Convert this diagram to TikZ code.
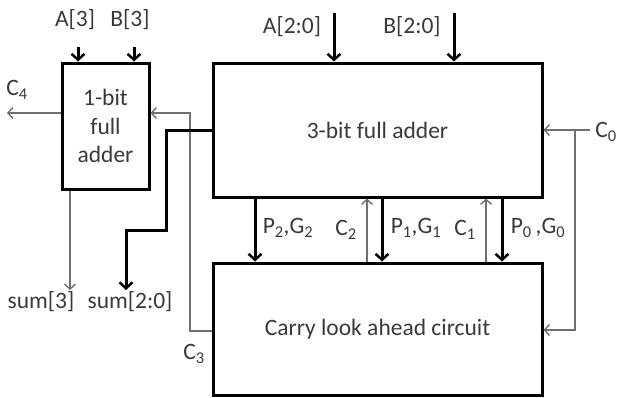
\documentclass[tikz,border=0pt]{standalone}
\usepackage{fontspec}
\setmainfont{Carlito}
\usetikzlibrary{arrows.meta}
\definecolor{txt}{HTML}{3A3A3A}
\definecolor{wire}{HTML}{707070}
\tikzset{
  blk/.style={draw=black, line width=3pt, minimum width=#1, inner sep=0pt, align=center, text=txt, font=\fontsize{23.5}{28.5}\selectfont},
  lbl/.style={text=txt, inner sep=0pt, font=\fontsize{23.5}{26}\selectfont},
  bus/.style={line width=3pt, -{Straight Barb[length=6pt,width=13pt,line width=2.5pt]}},
  sig/.style={draw=wire, line width=1.6pt, -{Straight Barb[length=5pt,width=11pt,line width=1.4pt]}}
}
\begin{document}
\begin{tikzpicture}[x=1pt,y=-1pt]
\useasboundingbox (0,0) rectangle (620,397);
% blocks
\node[blk=87pt, minimum height=126pt] (fa1) at (105.5,126) {1-bit\\full\\adder};
\node[blk=329pt, minimum height=134pt] (fa3) at (377.5,130) {3-bit full adder};
\node[blk=329pt, minimum height=132pt] (cla) at (377.5,329) {Carry look ahead circuit};
% labels
\node[lbl] (la3) at (75,20) {A[3]};
\node[lbl] (lb3) at (130,20) {B[3]};
\node[lbl] (la20) at (292,27) {A[2:0]};
\node[lbl] (lb20) at (412,27) {B[2:0]};
\node[lbl] (lc4) at (17,90) {C\textsubscript{4}};
\node[lbl] (lc0) at (606,132) {C\textsubscript{0}};
\node[lbl] (ls3) at (41,302) {sum[3]};
\node[lbl] (ls20) at (130,302) {sum[2:0]};
\node[lbl] (lc3) at (194,354) {C\textsubscript{3}};
\node[lbl] (lpg2) at (288,228) {P\textsubscript{2},G\textsubscript{2}};
\node[lbl] (lc2) at (346,230) {C\textsubscript{2}};
\node[lbl] (lpg1) at (416,228) {P\textsubscript{1},G\textsubscript{1}};
\node[lbl] (lc1) at (465,230) {C\textsubscript{1}};
\node[lbl] (lpg0) at (538,228) {P\textsubscript{0}\,,G\textsubscript{0}};
% coordinates
\coordinate (a3in) at (78,47);
\coordinate (b3in) at (134,47);
\coordinate (a20in) at (334,13);
\coordinate (b20in) at (454,13);
\coordinate (c4out) at (7,113);
\coordinate (c3a) at (190,331);
\coordinate (c3b) at (190,113);
\coordinate (s3out) at (70,290);
\coordinate (sa) at (166,130);
\coordinate (sb) at (166,230);
\coordinate (sc) at (126,230);
\coordinate (s20out) at (126,290);
\coordinate (c0in) at (590,130);
\coordinate (c0a) at (575,130);
\coordinate (c0b) at (575,330);
\coordinate (x2) at (255,0);
\coordinate (xc2) at (367,0);
\coordinate (x1) at (382,0);
\coordinate (xc1) at (486,0);
\coordinate (x0) at (502,0);
% inputs
\draw[bus] (a3in) -- (a3in |- fa1.north);
\draw[bus] (b3in) -- (b3in |- fa1.north);
\draw[bus] (a20in) -- (a20in |- fa3.north);
\draw[bus] (b20in) -- (b20in |- fa3.north);
% carries
\draw[sig] (c4out -| fa1.west) -- (c4out);
\draw[sig] (c3a -| cla.west) -- (c3a) -- (c3b) -- (c3b -| fa1.east);
\draw[sig] (c0in) -- (c0in -| fa3.east);
\draw[sig] (c0a) -- (c0b) -- (c0b -| cla.east);
% sums
\draw[sig] (s3out |- fa1.south) -- (s3out);
\draw[bus] (fa3.west) -- (sa) -- (sb) -- (sc) -- (s20out);
% P,G and C between blocks
\draw[bus] (x2 |- fa3.south) -- (x2 |- cla.north);
\draw[bus] (x1 |- fa3.south) -- (x1 |- cla.north);
\draw[bus] (x0 |- fa3.south) -- (x0 |- cla.north);
\draw[sig] (xc2 |- cla.north) -- (xc2 |- fa3.south);
\draw[sig] (xc1 |- cla.north) -- (xc1 |- fa3.south);
\end{tikzpicture}
\end{document}
